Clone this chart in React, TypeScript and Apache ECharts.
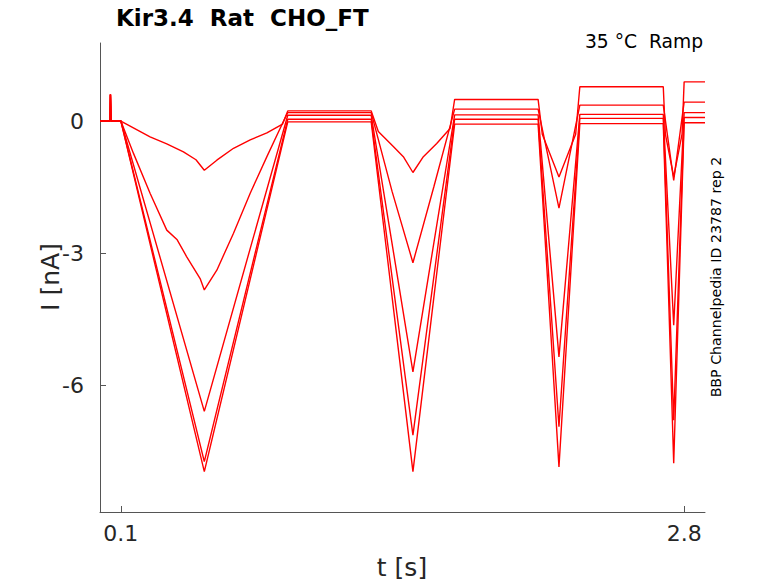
import React, { useEffect, useRef } from 'react';
import * as echarts from 'echarts';

// sweep currents [t (s), I (nA)]
const traceA = [
  [0, 0], [0.048, 0], [0.05, 0.6], [0.053, 0], [0.1, 0],
  [0.24, -0.36], [0.32, -0.52], [0.4, -0.7], [0.46, -0.88], [0.5, -1.12],
  [0.56, -0.89], [0.64, -0.62], [0.72, -0.43], [0.8, -0.27], [0.875, -0.07], [0.9, 0.23],
  [1.3, 0.23], [1.334, -0.24], [1.406, -0.58], [1.454, -0.81], [1.5, -1.17],
  [1.55, -0.81], [1.614, -0.51], [1.678, -0.17], [1.7, 0.49],
  [2.1, 0.49], [2.12, -0.3], [2.2, -1.27], [2.28, -0.3], [2.3, 0.78],
  [2.7, 0.78], [2.71, -0.3], [2.75, -1.27], [2.79, -0.3], [2.8, 0.89], [2.9, 0.89],
];
const traceB = [
  [0, 0], [0.048, 0], [0.05, 0.6], [0.053, 0], [0.1, 0],
  [0.16, -0.73], [0.24, -1.64], [0.32, -2.48], [0.37, -2.7], [0.415, -3.08], [0.48, -3.58], [0.5, -3.84],
  [0.56, -3.39], [0.64, -2.55], [0.72, -1.64], [0.8, -0.81], [0.875, -0.05], [0.9, 0.19],
  [1.3, 0.19], [1.4, -1.6], [1.5, -3.22], [1.6, -1.5], [1.7, 0.27],
  [2.1, 0.27], [2.2, -1.98], [2.3, 0.36],
  [2.7, 0.36], [2.75, -1.35], [2.8, 0.43], [2.9, 0.43],
];
const traceC = [
  [0, 0], [0.048, 0], [0.05, 0.6], [0.053, 0], [0.1, 0],
  [0.5, -6.6], [0.9, 0.13], [1.3, 0.13], [1.5, -5.7], [1.7, 0.14],
  [2.1, 0.14], [2.2, -5.36], [2.3, 0.15], [2.7, 0.15], [2.75, -4.64], [2.8, 0.19], [2.9, 0.19],
];
const traceD = [
  [0, 0], [0.048, 0], [0.05, 0.6], [0.053, 0], [0.1, 0],
  [0.5, -7.74], [0.9, 0.04], [1.3, 0.04], [1.5, -7.14], [1.7, 0.04],
  [2.1, 0.04], [2.2, -6.95], [2.3, 0.06], [2.7, 0.06], [2.75, -6.8], [2.8, 0.08], [2.9, 0.08],
];
const traceE = [
  [0, 0], [0.048, 0], [0.05, 0.6], [0.053, 0], [0.1, 0],
  [0.5, -7.97], [0.9, -0.02], [1.3, -0.02], [1.5, -7.97], [1.7, -0.07],
  [2.1, -0.07], [2.2, -7.86], [2.3, -0.06], [2.7, -0.06], [2.75, -7.78], [2.8, -0.04], [2.9, -0.04],
];

const traces = [traceA, traceB, traceC, traceD, traceE];
const xTicks = [0.1, 2.8];
const yTicks = [0, -3, -6];

const FONT = '"DejaVu Sans", sans-serif';
const INK = '#262626';

const App: React.FC = () => {
  const chartRef = useRef<HTMLDivElement>(null);

  useEffect(() => {
    if (!chartRef.current) return;
    const chart = echarts.init(chartRef.current, undefined, { renderer: 'svg' });

    const option: any = {
      animation: false,
      backgroundColor: '#fff',
      grid: { left: 100, right: 73, top: 43, bottom: 71 },
      xAxis: {
        type: 'value',
        min: 0,
        max: 2.9,
        axisLine: { show: true, onZero: false, lineStyle: { color: '#555', width: 1 } },
        axisTick: { show: true, inside: true, length: 6, customValues: xTicks, lineStyle: { color: '#555' } },
        axisLabel: { customValues: xTicks, color: INK, fontSize: 22, fontFamily: FONT, margin: 10 },
        splitLine: { show: false },
      },
      yAxis: {
        type: 'value',
        min: -8.886,
        max: 1.773,
        axisLine: { show: true, onZero: false, lineStyle: { color: '#555', width: 1 } },
        axisTick: { show: true, inside: true, length: 6, customValues: yTicks, lineStyle: { color: '#555' } },
        axisLabel: { customValues: yTicks, color: INK, fontSize: 22, fontFamily: FONT, margin: 16 },
        splitLine: { show: false },
      },
      series: traces.map((d, i) => ({
        name: 'sweep' + (i + 1),
        type: 'line',
        data: d,
        showSymbol: false,
        lineStyle: { color: '#ff0000', width: 1.4 },
        z: 2,
      })),
      graphic: [
        {
          type: 'text', x: 116, y: 18,
          style: { text: 'Kir3.4  Rat  CHO_FT', fontSize: 23, fontWeight: 'bold', fontFamily: FONT, fill: '#000', align: 'left', verticalAlign: 'middle' },
        },
        {
          type: 'text', x: 703, y: 41,
          style: { text: '35 °C  Ramp', fontSize: 18.7, fontFamily: FONT, fill: '#000', align: 'right', verticalAlign: 'middle' },
        },
        {
          type: 'text', x: 402, y: 567,
          style: { text: 't [s]', fontSize: 25, fontFamily: FONT, fill: INK, align: 'center', verticalAlign: 'middle' },
        },
        {
          type: 'text', x: 50, y: 277, rotation: Math.PI / 2,
          style: { text: 'I [nA]', fontSize: 25, fontFamily: FONT, fill: INK, align: 'center', verticalAlign: 'middle' },
        },
        {
          type: 'text', x: 716, y: 277, rotation: Math.PI / 2,
          style: { text: 'BBP Channelpedia ID 23787 rep 2', fontSize: 14.2, fontFamily: FONT, fill: '#000', align: 'center', verticalAlign: 'middle' },
        },
      ],
    };

    chart.setOption(option);
    return () => chart.dispose();
  }, []);

  return <div ref={chartRef} style={{ position: 'absolute', left: 0, top: 0, width: 778, height: 583 }} />;
};

export default App;
